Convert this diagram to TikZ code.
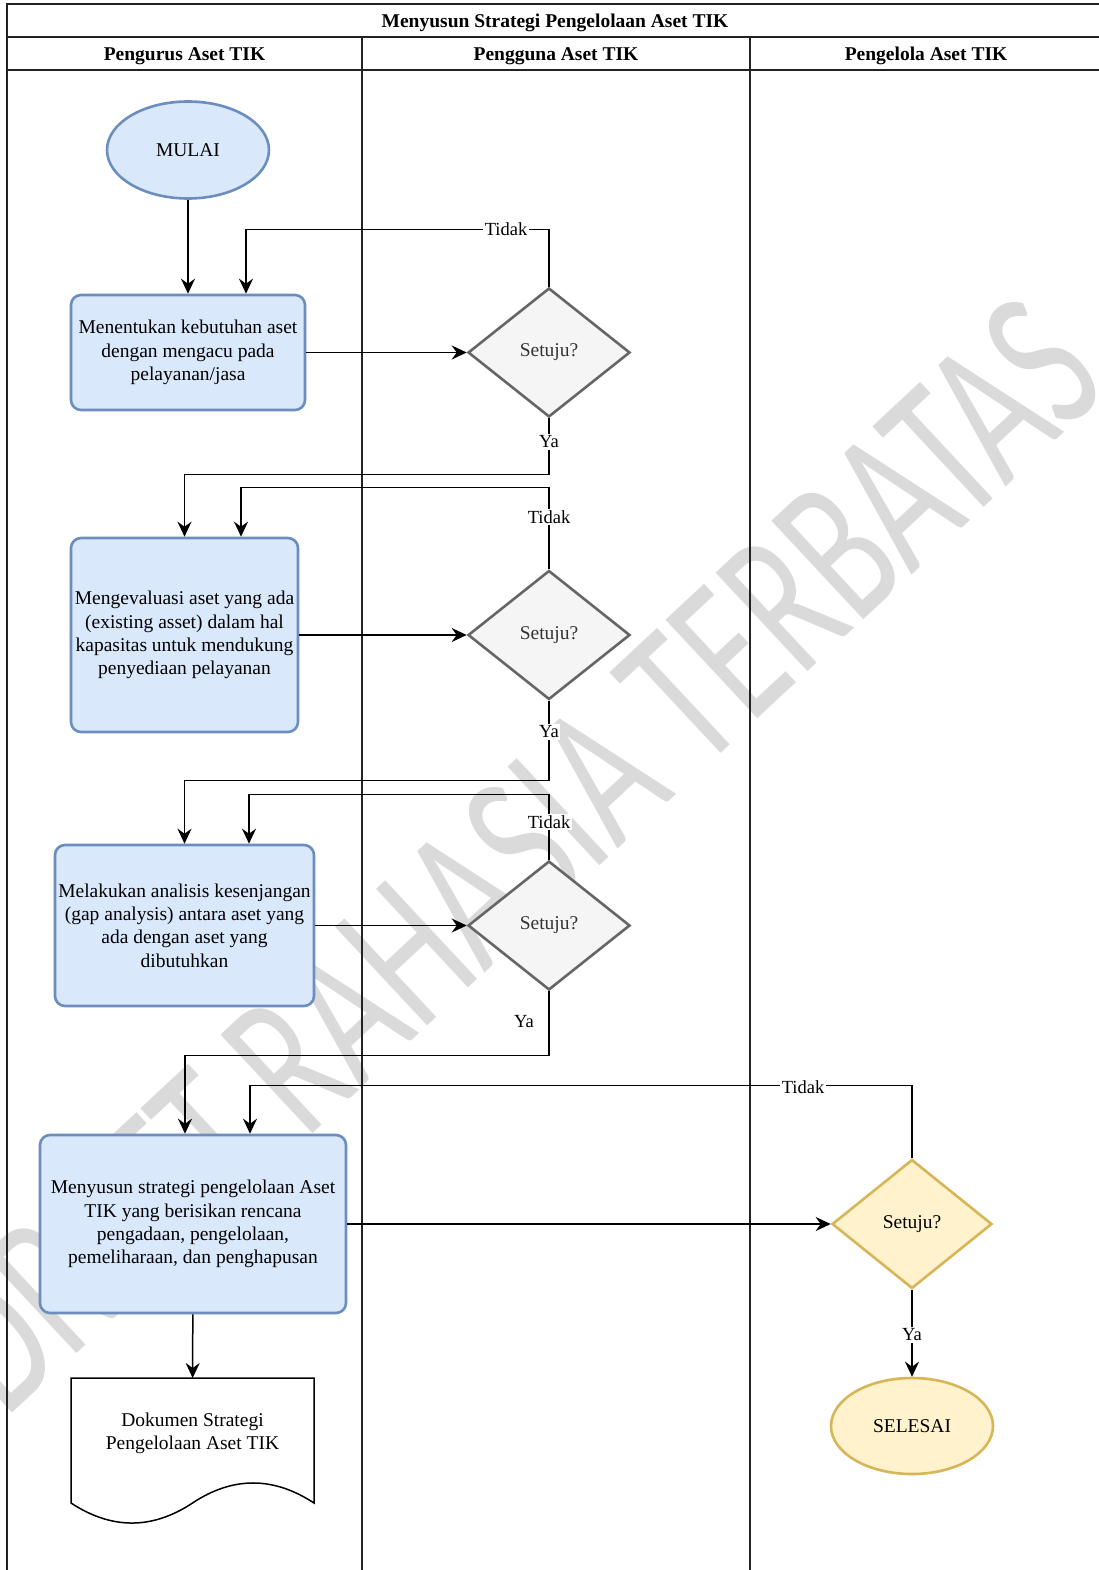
\documentclass[tikz,border=0pt]{standalone}
\usepackage{fontspec}
\setmainfont{Liberation Serif}
\newfontfamily\wmfont{Carlito}
\usetikzlibrary{shapes.geometric,arrows.meta}

\definecolor{blueFill}{HTML}{DAE8FC}
\definecolor{blueLine}{HTML}{6C8EBF}
\definecolor{yellowFill}{HTML}{FFF2CC}
\definecolor{yellowLine}{HTML}{D6B656}
\definecolor{greyFill}{HTML}{F5F5F5}
\definecolor{greyLine}{HTML}{666666}
\definecolor{greyText}{HTML}{333333}
\definecolor{markGrey}{HTML}{DADADA}
\definecolor{laneLine}{HTML}{222222}

\tikzset{
  txt/.style={font=\fontsize{19.5}{23.3}\selectfont, align=center, inner sep=0pt},
  headtxt/.style={font=\bfseries\fontsize{19.5}{23.3}\selectfont, inner sep=0pt},
  task/.style={txt, draw=blueLine, fill=blueFill, line width=2.6pt, rounded corners=10pt},
  terminalblue/.style={txt, ellipse, draw=blueLine, fill=blueFill, line width=2.6pt,
    minimum width=162pt, minimum height=97pt},
  terminalyellow/.style={txt, ellipse, draw=yellowLine, fill=yellowFill, line width=2.6pt,
    minimum width=162pt, minimum height=96pt},
  decisiongrey/.style={txt, diamond, draw=greyLine, fill=greyFill, text=greyText,
    line width=2.6pt, minimum width=162pt, minimum height=129pt},
  decisionyellow/.style={txt, diamond, draw=yellowLine, fill=yellowFill,
    line width=2.6pt, minimum width=160pt, minimum height=129pt},
  conn/.style={line width=1.5pt, -{Stealth[length=15pt, width=14pt, inset=5pt]}},
  lbl/.style={font=\fontsize{18.5}{22}\selectfont, fill=white, inner sep=1.5pt},
  lane/.style={draw=laneLine, line width=1.8pt},
  docframe/.style={inner sep=0pt, outer sep=0pt, minimum width=243pt, minimum height=125pt},
  docline/.style={draw=black, fill=white, line width=1.5pt},
  wm/.style={font=\wmfont\fontsize{210}{210}\selectfont, text=markGrey, inner sep=0pt}
}

\begin{document}
\begin{tikzpicture}[x=1pt, y=-1pt]
  \useasboundingbox (0,0) rectangle (1099,1570);
  \clip (0,0) rectangle (1099,1570);
  \fill[white] (0,0) rectangle (1099,1570);

  % watermark behind the chart
  \node[wm, anchor=base east, rotate=43] (mark) at (1112,388)
    {\scalebox{0.67}[1]{DRAFT RAHASIA TERBATAS}};

  % swimlane table
  \draw[lane] (7,4) rectangle (1102,1580);
  \draw[lane] (7,37) -- (1102,37);
  \draw[lane] (7,70) -- (1102,70);
  \draw[lane] (362,37) -- (362,1580);
  \draw[lane] (750,37) -- (750,1580);

  \node[headtxt] (title) at (555,23) {Menyusun Strategi Pengelolaan Aset TIK};
  \node[headtxt] (lane1) at (184.5,56) {Pengurus Aset TIK};
  \node[headtxt] (lane2) at (556,56) {Pengguna Aset TIK};
  \node[headtxt] (lane3) at (926,56) {Pengelola Aset TIK};

  % shapes
  \node[terminalblue] (mulai) at (188,150) {MULAI};
  \node[task, minimum width=234pt, minimum height=115pt] (b1) at (188,352.5)
    {Menentukan kebutuhan aset\\dengan mengacu pada\\pelayanan/jasa};
  \node[decisiongrey] (d1) at (549,352.5) {Setuju?};

  \node[task, minimum width=227pt, minimum height=194pt] (b2) at (184.5,635)
    {Mengevaluasi aset yang ada\\(existing asset) dalam hal\\kapasitas untuk mendukung\\penyediaan pelayanan};
  \node[decisiongrey] (d2) at (549,635) {Setuju?};

  \node[task, minimum width=259pt, minimum height=161pt] (b3) at (184.5,925.5)
    {Melakukan analisis kesenjangan\\(gap analysis) antara aset yang\\ada dengan aset yang\\dibutuhkan};
  \node[decisiongrey] (d3) at (549,925.5) {Setuju?};

  \node[task, minimum width=306pt, minimum height=178pt] (b4) at (193,1224)
    {Menyusun strategi pengelolaan Aset\\TIK yang berisikan rencana\\pengadaan, pengelolaan,\\pemeliharaan, dan penghapusan};
  \node[decisionyellow] (d4) at (912,1224) {Setuju?};
  \node[terminalyellow] (selesai) at (912,1426) {SELESAI};

  % document output
  \node[docframe] (doc) at (192.5,1440.5) {};
  \path[docline] (doc.north west) -- (doc.north east) -- (314,1503)
    .. controls (273.3,1476.3) and (232.8,1476.3) .. (192.5,1503)
    .. controls (152.2,1529.7) and (111.7,1529.7) .. (71,1503) -- cycle;
  \node[txt] (doctext) at (192.5,1433) {Dokumen Strategi\\Pengelolaan Aset TIK};

  % connectors
  \draw[conn] (mulai) -- (b1);
  \draw[conn] (b1) -- (d1);
  \draw[conn] (d1.north) -- ++(0,-57) -| ([xshift=58pt]b1.north);
  \draw[conn] (d1.south) -- ++(0,56) -| (b2.north);

  \draw[conn] (b2) -- (d2);
  \draw[conn] (d2.north) -- ++(0,-81.5) -| ([xshift=56.5pt]b2.north);
  \draw[conn] (d2.south) -- ++(0,79.5) -| (b3.north);

  \draw[conn] (b3) -- (d3);
  \draw[conn] (d3.north) -- ++(0,-65) -| ([xshift=64.5pt]b3.north);
  \draw[conn] (d3.south) -- ++(0,64) -| ([xshift=-8pt]b4.north);

  \draw[conn] (b4) -- (d4);
  \draw[conn] (d4.north) -- ++(0,-72.5) -| ([xshift=57pt]b4.north);
  \draw[conn] (d4) -- (selesai);
  \draw[conn] (b4) -- (doc);

  % branch labels
  \node[lbl] (t1) at (506,229) {Tidak};
  \node[lbl] (y1) at (549,442) {Ya};
  \node[lbl] (t2) at (549,517) {Tidak};
  \node[lbl] (y2) at (549,732) {Ya};
  \node[lbl] (t3) at (549,822) {Tidak};
  \node[lbl] (y3) at (524,1022) {Ya};
  \node[lbl] (t4) at (803,1087) {Tidak};
  \node[lbl] (y4) at (912,1335) {Ya};
\end{tikzpicture}
\end{document}
